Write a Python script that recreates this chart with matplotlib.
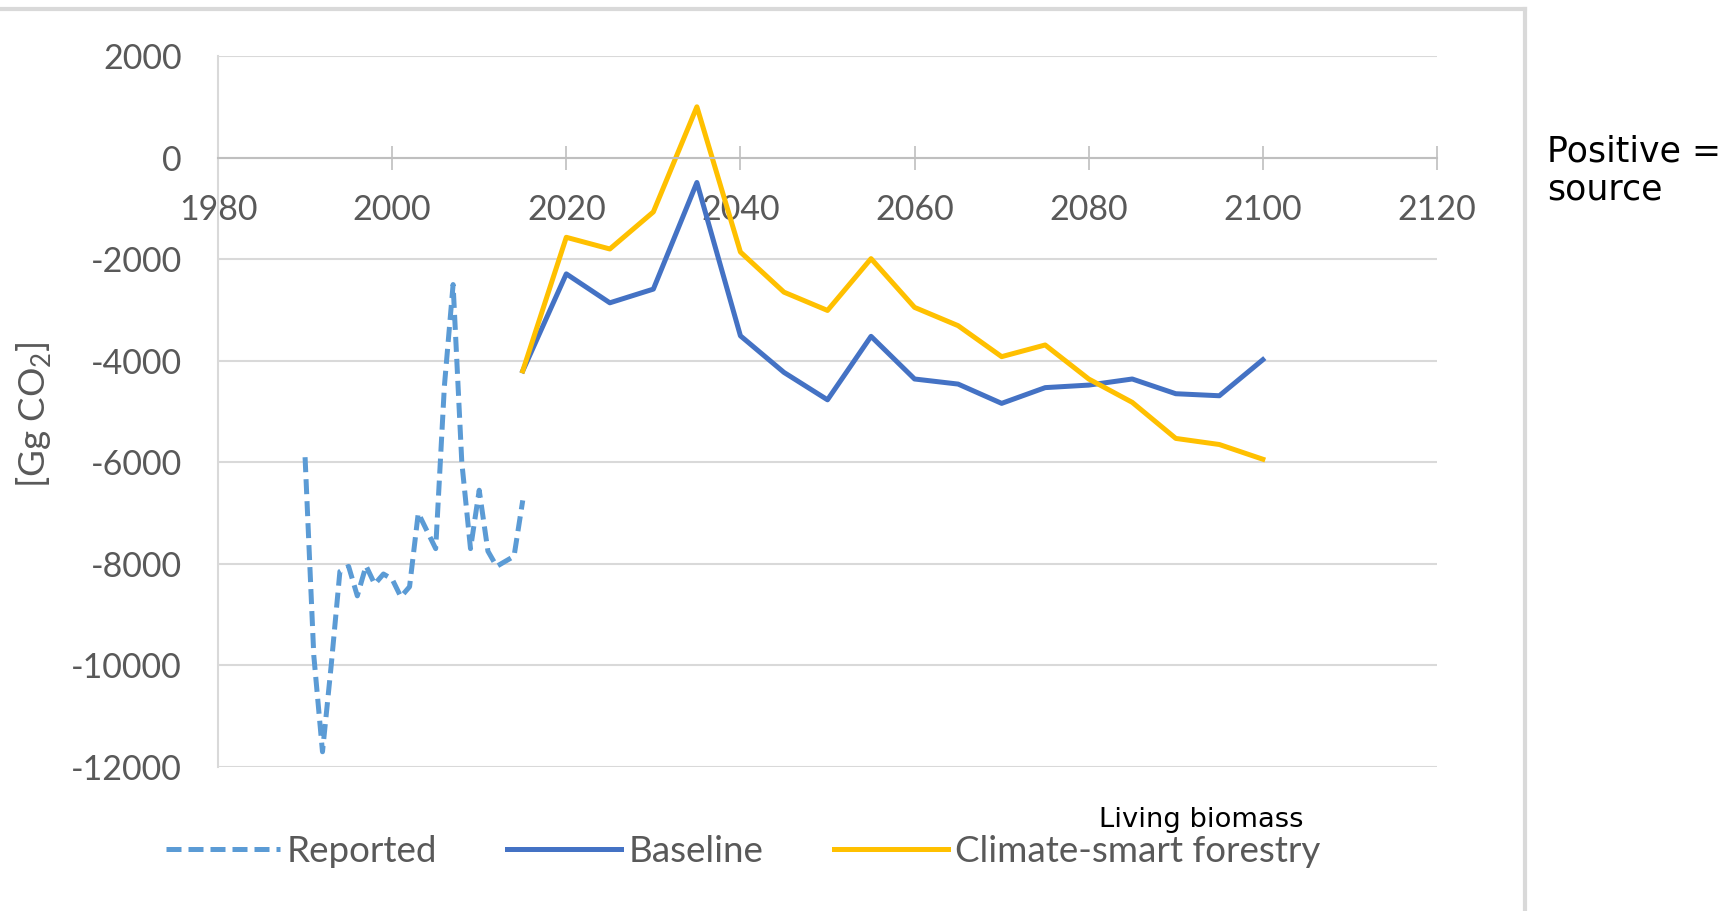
import matplotlib
matplotlib.use("Agg")
import matplotlib.pyplot as plt
from matplotlib.lines import Line2D
import numpy as np

# reported inventory, yearly
rep_years = list(range(1990, 2016))
reported = [-5900, -9800, -11700, -10000, -8150, -8050, -8630, -8040, -8400, -8200,
            -8300, -8650, -8450, -7000, -7350, -7700, -4500, -2500, -6000, -7700,
            -6550, -7750, -8050, -7950, -7850, -6750]

# projections, 5-year steps
proj_years = list(range(2015, 2101, 5))
baseline = [-4200, -2290, -2860, -2590, -490, -3510, -4230, -4770, -3520, -4360,
            -4460, -4840, -4530, -4480, -4360, -4650, -4690, -3980]
csf = [-4200, -1570, -1800, -1070, 1000, -1860, -2650, -3010, -1990, -2950,
       -3310, -3920, -3690, -4360, -4820, -5530, -5650, -5940]

xticks = list(range(1980, 2121, 20))
yticks = list(range(-12000, 2001, 2000))

plt.rcParams['axes.unicode_minus'] = False
plt.rcParams['mathtext.fontset'] = 'custom'
plt.rcParams['mathtext.rm'] = 'Lato'

W, H = 1736, 911
fig = plt.figure(figsize=(W / 100, H / 100), dpi=100)
ax = fig.add_axes([218 / W, 1 - 767 / H, (1437 - 218) / W, (767 - 56) / H])

grey_txt = '#595959'
ax.plot(rep_years, reported, color='#5B9BD5', lw=3.6, linestyle=(0, (3, 1.4)),
        label='Reported')
ax.plot(proj_years, baseline, color='#4472C4', lw=3.6, label='Baseline')
ax.plot(proj_years, csf, color='#FFC000', lw=3.6, label='Climate-smart forestry')

ax.set_xlim(1980, 2120)
ax.set_ylim(-12000, 2000)
ax.set_xticks(xticks)
ax.set_yticks(yticks)
ax.set_yticklabels([str(v) for v in yticks])

ax.yaxis.grid(True, color='#D9D9D9', lw=1.5)
ax.set_axisbelow(True)
for s in ['top', 'right']:
    ax.spines[s].set_visible(False)
ax.spines['bottom'].set_position(('data', 0))
ax.spines['bottom'].set_color('#BFBFBF')
ax.spines['bottom'].set_linewidth(1.5)
ax.spines['left'].set_color('#D9D9D9')
ax.spines['left'].set_linewidth(1.5)

ax.tick_params(axis='x', direction='inout', length=17, width=1.2, color='#BFBFBF',
               pad=18, labelsize=24.5, labelcolor=grey_txt)
ax.tick_params(axis='y', length=0, pad=26, labelsize=24.5, labelcolor=grey_txt)
for lab in ax.get_xticklabels() + ax.get_yticklabels():
    lab.set_fontfamily('Lato')

fig.text(34 / W, 1 - 415 / H, '[Gg CO$_{\\mathrm{2}}$]', rotation=90, ha='center',
         va='center', fontsize=26.5, color=grey_txt, family='Lato')

leg = ax.legend(loc='center', bbox_to_anchor=(743 / W, 1 - 851 / H),
                bbox_transform=fig.transFigure, ncol=3, frameon=False,
                handlelength=3.1, handletextpad=0.2, columnspacing=1.9,
                prop={'family': 'Lato', 'size': 26.5})
for t in leg.get_texts():
    t.set_color(grey_txt)

fig.text(1099 / W, 1 - 827 / H, 'Living biomass', fontsize=19.7, color='black',
         family='DejaVu Sans', va='baseline')
fig.text(1547 / W, 1 - 161 / H, 'Positive =', fontsize=25, color='black',
         family='DejaVu Sans', va='baseline')
fig.text(1547 / W, 1 - 199 / H, 'source', fontsize=25, color='black',
         family='DejaVu Sans', va='baseline')

# chart frame (top and right edges)
fig.add_artist(Line2D([0, 1525 / W], [1 - 9 / H, 1 - 9 / H], transform=fig.transFigure,
                      color='#D9D9D9', lw=3))
fig.add_artist(Line2D([1525 / W, 1525 / W], [1 - 9 / H, 0], transform=fig.transFigure,
                      color='#D9D9D9', lw=3))

fig.savefig('out.png', dpi=100)
